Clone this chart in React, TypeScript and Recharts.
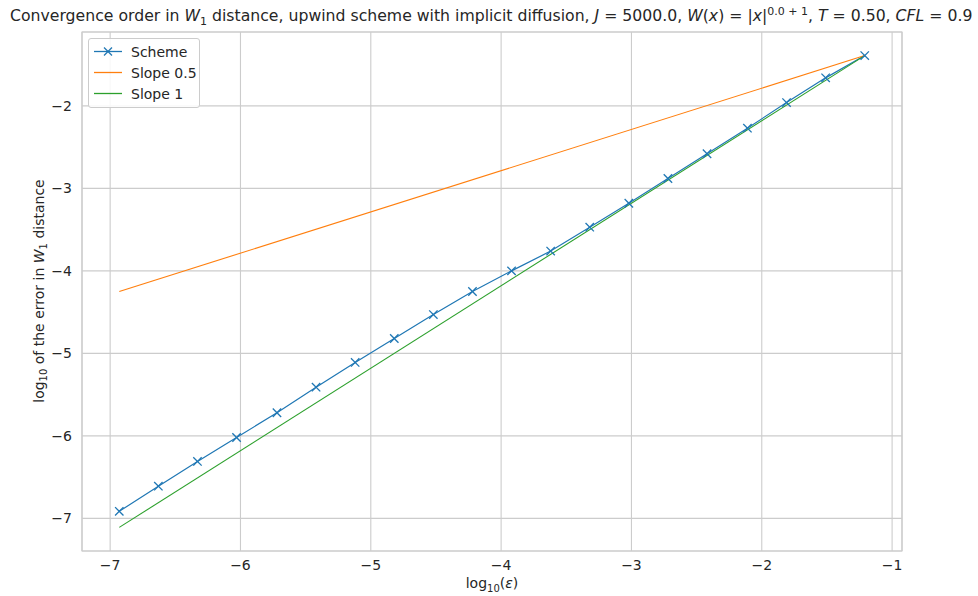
import React from "react";
import {
  LineChart,
  Line,
  XAxis,
  YAxis,
  CartesianGrid,
  ReferenceArea,
} from "recharts";

// log10(eps) for each refinement level
const LOG_EPS = [
  -6.93, -6.63, -6.33, -6.03, -5.72, -5.42, -5.12, -4.82, -4.52, -4.22,
  -3.92, -3.62, -3.32, -3.02, -2.72, -2.42, -2.11, -1.81, -1.51, -1.21,
];
// log10 of the W1 error of the scheme
const SCHEME_ERR = [
  -6.915, -6.61, -6.31, -6.02, -5.72, -5.41, -5.11, -4.82, -4.53, -4.25,
  -4.0, -3.76, -3.47, -3.18, -2.88, -2.58, -2.27, -1.96, -1.66, -1.39,
];
// reference slopes, only the two end points
const SLOPE_HALF = [-4.25, -1.39];
const SLOPE_ONE = [-7.11, -1.39];

const X_TICKS = [-7, -6, -5, -4, -3, -2, -1];
const Y_TICKS = [-7, -6, -5, -4, -3, -2];
const X_DOMAIN: [number, number] = [-7.216, -0.924];
const Y_DOMAIN: [number, number] = [-7.396, -1.104];

const BLUE = "#1f77b4";
const ORANGE = "#ff7f0e";
const GREEN = "#2ca02c";
const GRID = "#cccccc";
const TEXT = "#262626";
const FONT = "'DejaVu Sans', sans-serif";

const last = LOG_EPS.length - 1;
const data = LOG_EPS.map((x, i) => ({
  x,
  scheme: SCHEME_ERR[i],
  half: i === 0 ? SLOPE_HALF[0] : i === last ? SLOPE_HALF[1] : undefined,
  one: i === 0 ? SLOPE_ONE[0] : i === last ? SLOPE_ONE[1] : undefined,
}));

const minus = (v: number) => String(v).replace("-", "\u2212");

const Cross = (props: any) => {
  const { cx, cy } = props;
  if (cx == null || cy == null) return null;
  const r = 4.2;
  return (
    <g stroke={BLUE} strokeWidth={1.3}>
      <line x1={cx - r} y1={cy - r} x2={cx + r} y2={cy + r} />
      <line x1={cx - r} y1={cy + r} x2={cx + r} y2={cy - r} />
    </g>
  );
};

const LegendBox = () => {
  const rows = [
    { label: "Scheme", color: BLUE, marker: true },
    { label: "Slope 0.5", color: ORANGE, marker: false },
    { label: "Slope 1", color: GREEN, marker: false },
  ];
  return (
    <div
      style={{
        position: "absolute",
        left: 88,
        top: 38,
        width: 110,
        background: "rgba(255,255,255,0.85)",
        border: `1px solid ${GRID}`,
        borderRadius: 3,
        padding: "2px 0 3px 0",
        fontFamily: FONT,
        fontSize: 14,
        color: TEXT,
      }}
    >
      {rows.map((r) => (
        <div
          key={r.label}
          style={{ display: "flex", alignItems: "center", height: 21 }}
        >
          <svg width={42} height={21}>
            <line x1={5} y1={10.5} x2={33} y2={10.5} stroke={r.color} strokeWidth={1.3} />
            {r.marker && (
              <g stroke={r.color} strokeWidth={1.3}>
                <line x1={15} y1={6.5} x2={23} y2={14.5} />
                <line x1={15} y1={14.5} x2={23} y2={6.5} />
              </g>
            )}
          </svg>
          <span>{r.label}</span>
        </div>
      ))}
    </div>
  );
};

export default function App() {
  return (
    <div
      style={{
        position: "absolute",
        left: 0,
        top: 0,
        width: 978,
        height: 596,
        background: "#fff",
        overflow: "hidden",
        fontFamily: FONT,
        color: TEXT,
      }}
    >
      <div
        style={{
          position: "absolute",
          left: 10,
          top: 5,
          fontSize: 15.7,
          whiteSpace: "nowrap",
        }}
      >
        Convergence order in <i>W</i>
        <sub style={{ fontSize: 11 }}>1</sub> distance, upwind scheme with
        implicit diffusion, <i>J</i> = 5000.0, <i>W</i>(<i>x</i>) = |<i>x</i>|
        <sup style={{ fontSize: 11 }}>0.0 + 1</sup>, <i>T</i> = 0.50,{" "}
        <i>CFL</i> = 0.9
      </div>
      <LineChart
        width={978}
        height={596}
        data={data}
        margin={{ top: 32, right: 76, bottom: 15, left: 32 }}
        style={{ position: "absolute", left: 0, top: 0 }}
      >
        <CartesianGrid stroke={GRID} strokeWidth={1.1} />
        <ReferenceArea
          x1={X_DOMAIN[0]}
          x2={X_DOMAIN[1]}
          y1={Y_DOMAIN[0]}
          y2={Y_DOMAIN[1]}
          fill="none"
          stroke={GRID}
          strokeWidth={1.2}
          fillOpacity={0}
        />
        <XAxis
          dataKey="x"
          type="number"
          domain={X_DOMAIN}
          ticks={X_TICKS}
          tickFormatter={minus}
          height={30}
          tickLine={false}
          axisLine={false}
          tickSize={0}
          tickMargin={9}
          tick={{ fill: TEXT, fontSize: 14, fontFamily: FONT }}
          allowDataOverflow
        />
        <YAxis
          type="number"
          domain={Y_DOMAIN}
          ticks={Y_TICKS}
          tickFormatter={minus}
          width={50}
          tickLine={false}
          axisLine={false}
          tickSize={0}
          tickMargin={10}
          tick={{ fill: TEXT, fontSize: 14, fontFamily: FONT }}
          allowDataOverflow
        />
        <Line
          dataKey="scheme"
          name="Scheme"
          stroke={BLUE}
          strokeWidth={1.2}
          dot={<Cross />}
          activeDot={false}
          isAnimationActive={false}
        />
        <Line
          dataKey="half"
          name="Slope 0.5"
          stroke={ORANGE}
          strokeWidth={1.1}
          dot={false}
          connectNulls
          activeDot={false}
          isAnimationActive={false}
        />
        <Line
          dataKey="one"
          name="Slope 1"
          stroke={GREEN}
          strokeWidth={1.1}
          dot={false}
          connectNulls
          activeDot={false}
          isAnimationActive={false}
        />
      </LineChart>
      <LegendBox />
      <div
        style={{
          position: "absolute",
          left: 0,
          width: 984,
          top: 575,
          textAlign: "center",
          fontSize: 14,
        }}
      >
        log<sub style={{ fontSize: 10 }}>10</sub>(<i>ε</i>)
      </div>
      <div
        style={{
          position: "absolute",
          left: 40,
          top: 291,
          transform: "translate(-50%, -50%) rotate(-90deg)",
          whiteSpace: "nowrap",
          fontSize: 14,
        }}
      >
        log<sub style={{ fontSize: 10 }}>10</sub> of the error in <i>W</i>
        <sub style={{ fontSize: 10 }}>1</sub> distance
      </div>
    </div>
  );
}
